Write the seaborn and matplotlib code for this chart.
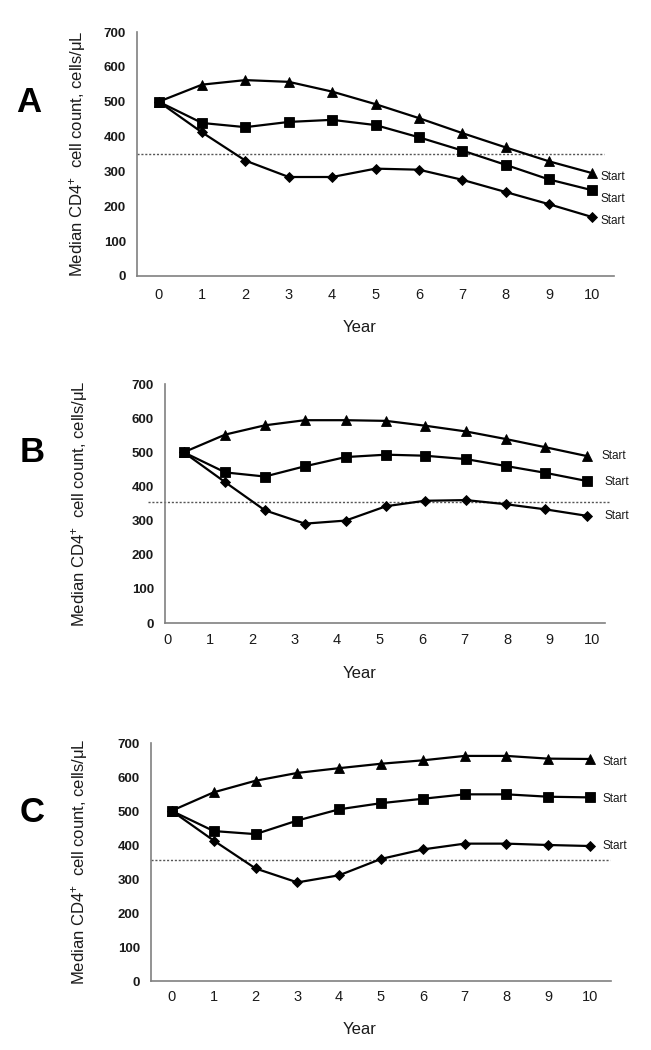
import matplotlib
matplotlib.use("Agg")
import matplotlib.pyplot as plt
import seaborn as sns

# x positions (years); panel B's points sit slightly off the integer ticks
YEARS = list(range(11))
YEARS_B = [0.39, 1.37, 2.3, 3.24, 4.2, 5.15, 6.06, 7.03, 7.96, 8.89, 9.87]
TICKS = list(range(11))

# median CD4+ counts (cells/uL)
A_TRI = [500, 549, 562, 557, 529, 493, 453, 410, 369, 329, 295]
A_SQ = [500, 439, 427, 442, 448, 433, 398, 360, 319, 277, 246]
A_DIA = [500, 412, 331, 284, 284, 308, 305, 276, 241, 206, 169]

B_TRI = [500, 552, 579, 594, 594, 592, 578, 561, 539, 515, 489]
B_SQ = [500, 441, 429, 459, 486, 493, 490, 480, 460, 440, 416]
B_DIA = [500, 412, 330, 291, 300, 342, 358, 360, 348, 333, 314]

C_TRI = [501, 555, 589, 612, 626, 639, 649, 662, 662, 654, 653]
C_SQ = [500, 441, 432, 472, 505, 523, 536, 549, 549, 542, 540]
C_DIA = [500, 413, 331, 290, 311, 359, 387, 404, 404, 400, 397]

THRESH_A, THRESH_B, THRESH_C = 350, 355, 357
END_LABEL = "Start"
YLABEL = "Median CD4$^{+}$  cell count, cells/\u03bcL"

sns.set_style("white")
plt.rcParams["font.family"] = ["Liberation Sans", "DejaVu Sans"]
plt.rcParams["mathtext.fontset"] = "custom"
plt.rcParams["mathtext.rm"] = "Liberation Sans"
plt.rcParams["mathtext.it"] = "Liberation Sans:italic"
plt.rcParams["mathtext.bf"] = "Liberation Sans:bold"

W, H = 651, 1050
fig = plt.figure(figsize=(W / 100, H / 100), dpi=100)


def px(x, y):
    return x / W, 1 - y / H


MARKERS = [("^", 7.5), ("s", 6.5), ("D", 5.2)]
SPINE = "#808080"
INK = "#1a1a1a"

panels = [
    dict(letter="A", box=(137, 32, 614, 276), xlim=(-0.5, 10.5), x=YEARS,
         series=(A_TRI, A_SQ, A_DIA), thresh=THRESH_A, span=(0.0, 0.979),
         letter_xy=(29, 103), ylab_xy=(77, 154), year_xy=(360, 328),
         offs=[(6, -3), (6, -6), (6, -3)], xpad=8.5),
    dict(letter="B", box=(165, 384, 605, 623), xlim=(-0.05, 10.3), x=YEARS_B,
         series=(B_TRI, B_SQ, B_DIA), thresh=THRESH_B, span=(-0.039, 1.011),
         letter_xy=(32, 452), ylab_xy=(80, 504), year_xy=(360, 673),
         offs=[(11, 0), (13, -1), (13, 0)], xpad=7),
    dict(letter="C", box=(151, 743, 611, 981), xlim=(-0.5, 10.5), x=YEARS,
         series=(C_TRI, C_SQ, C_DIA), thresh=THRESH_C, span=(0.0, 0.998),
         letter_xy=(32, 812), ylab_xy=(80, 862), year_xy=(360, 1030),
         offs=[(9, -2), (9, -1), (9, 0)], xpad=6.5),
]

for p in panels:
    l, t, r, b = p["box"]
    ax = fig.add_axes([l / W, 1 - b / H, (r - l) / W, (b - t) / H])

    for vals, (m, ms), off in zip(p["series"], MARKERS, p["offs"]):
        sns.lineplot(x=p["x"], y=vals, ax=ax, color="black", linewidth=1.6,
                     marker=m, markersize=ms, markeredgecolor="black",
                     markeredgewidth=0.6, clip_on=False)
        ax.annotate(END_LABEL, xy=(p["x"][-1], vals[-1]), xytext=off,
                    textcoords="offset points", ha="left", va="center",
                    fontsize=8.5, color=INK, annotation_clip=False)

    ax.axhline(p["thresh"], xmin=p["span"][0], xmax=p["span"][1], color="#555555",
               linewidth=1.0, linestyle=(0, (1.5, 1.3)), clip_on=False, zorder=1)

    ax.set_xlim(*p["xlim"])
    ax.set_ylim(0, 700)
    ax.set_xticks(TICKS)
    ax.set_yticks(range(0, 701, 100))
    ax.set_xlabel("")
    ax.set_ylabel("")
    ax.grid(False)
    for s in ("top", "right"):
        ax.spines[s].set_visible(False)
    for s in ("left", "bottom"):
        ax.spines[s].set_color(SPINE)
        ax.spines[s].set_linewidth(1.2)
    ax.tick_params(axis="y", length=4, width=1, color=SPINE, labelsize=9.5,
                   labelcolor=INK, pad=4)
    for lab in ax.get_yticklabels():
        lab.set_fontweight("bold")
    ax.tick_params(axis="x", length=0, labelsize=10.5, labelcolor=INK, pad=p["xpad"])

    fig.text(*px(*p["letter_xy"]), p["letter"], fontsize=25, fontweight="bold",
             ha="center", va="center", color="black")
    fig.text(*px(*p["ylab_xy"]), YLABEL, rotation=90, fontsize=12,
             ha="center", va="center", color=INK)
    fig.text(*px(*p["year_xy"]), "Year", fontsize=12, ha="center", va="center",
             color=INK)

fig.savefig("out.png", dpi=100)
